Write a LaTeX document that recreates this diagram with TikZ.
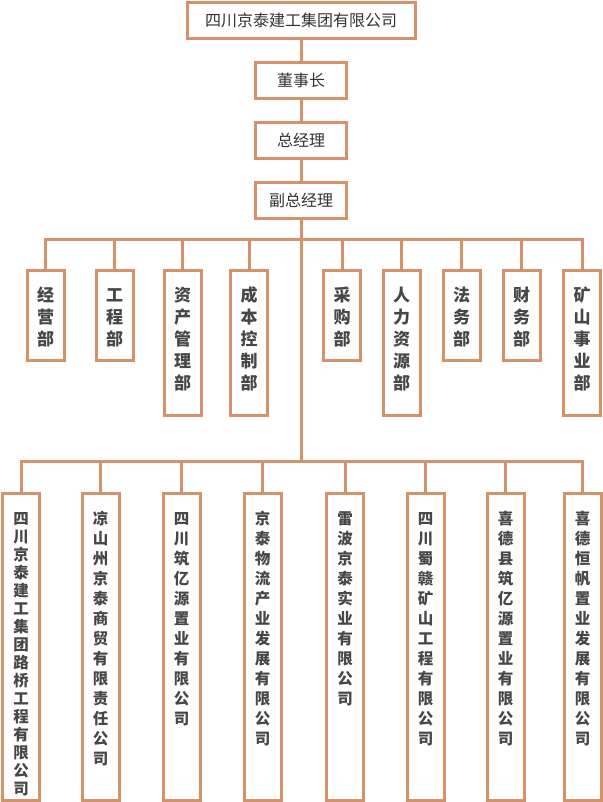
\documentclass[tikz,border=0pt]{standalone}
\usepackage{fontspec}
\setmainfont{Noto Sans CJK SC}
\usepackage{tikz}
\definecolor{linec}{HTML}{D4926A}
\definecolor{textc}{HTML}{333333}
\newcommand{\colstack}[2]{\parbox[c][#1][t]{22pt}{\centering\vspace*{16pt}\rule{0pt}{15pt}#2}}

\begin{document}
\begin{tikzpicture}[x=1pt, y=-1pt, line join=miter,
    link/.style={draw=linec, line width=3pt},
    post/.style={draw=linec, line width=3pt, fill=white, text=textc, inner sep=0pt,
        minimum width=91pt, minimum height=36pt, font=\fontsize{16pt}{19pt}\selectfont},
    unit/.style={draw=linec, line width=3pt, fill=white, text=textc!90!white, inner sep=0pt,
        minimum width=37pt, anchor=north},
    dept/.style={unit, font=\fontsize{17pt}{22pt}\selectfont\bfseries},
    firm/.style={unit, font=\fontsize{15.5pt}{20pt}\selectfont\bfseries}]
    \useasboundingbox (0,0) rectangle (602,802);
    % head of the tree
    \node[post, minimum width=228pt] (group) at (301,20.5) {四川京泰建工集团有限公司};
    \node[post] (chair) at (301,80.5) {董事长};
    \node[post] (gm) at (301,140.5) {总经理};
    \node[post] (vgm) at (301,200.5) {副总经理};
    \coordinate (busa) at (301,239.5);
    \coordinate (busb) at (301,461);
    \draw[link] (group) -- (chair) -- (gm) -- (vgm) -- (busb);
    % departments
    \foreach \nd/\px/\hgt/\lbl in {d1/45.5/90/经\\营\\部, d2/114.5/90/工\\程\\部,
            d3/182.5/145/资\\产\\管\\理\\部, d4/249/145/成\\本\\控\\制\\部,
            d5/342/90/采\\购\\部, d6/401.5/145/人\\力\\资\\源\\部,
            d7/461.5/90/法\\务\\部, d8/521.5/90/财\\务\\部,
            d9/582/145/矿\\山\\事\\业\\部}{
        \node[dept] (\nd) at (\px,269.2) {\colstack{\hgt pt}{\lbl}};
        \draw[link] (busa) -| (\nd.north);
    }
    % companies
    \foreach \nd/\gap/\px/\lbl in {c1/18/21/四\\川\\京\\泰\\建\\工\\集\\团\\路\\桥\\工\\程\\有\\限\\公\\司,
            c2/20/100.5/凉\\山\\州\\京\\泰\\商\\贸\\有\\限\\责\\任\\公\\司,
            c3/20/181.5/四\\川\\筑\\亿\\源\\置\\业\\有\\限\\公\\司,
            c4/20/262.5/京\\泰\\物\\流\\产\\业\\发\\展\\有\\限\\公\\司,
            c5/20/345/雷\\波\\京\\泰\\实\\业\\有\\限\\公\\司,
            c6/20/425.5/四\\川\\蜀\\赣\\矿\\山\\工\\程\\有\\限\\公\\司,
            c7/20/505.5/喜\\德\\县\\筑\\亿\\源\\置\\业\\有\\限\\公\\司,
            c8/20/582.5/喜\\德\\恒\\帆\\置\\业\\发\\展\\有\\限\\公\\司}{
        \node[firm, font=\fontsize{15.5pt}{\gap pt}\selectfont\bfseries] (\nd) at (\px,491.5) {\colstack{307pt}{\lbl}};
        \draw[link] (busb) -| (\nd.north);
    }
\end{tikzpicture}
\end{document}
